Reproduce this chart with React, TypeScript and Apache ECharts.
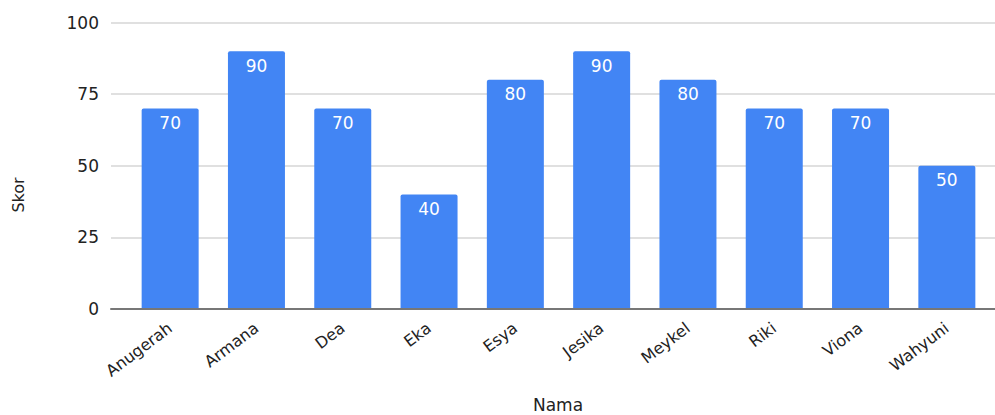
import React, { useEffect, useRef } from "react";
import * as echarts from "echarts";

const names = ["Anugerah", "Armana", "Dea", "Eka", "Esya", "Jesika", "Meykel", "Riki", "Viona", "Wahyuni"];
const scores = [70, 90, 70, 40, 80, 90, 80, 70, 70, 50];
const yTicks = [0, 25, 50, 75, 100];
const xTitle = "Nama";
const yTitle = "Skor";

const FONT = "DejaVu Sans, Verdana, sans-serif";

export default function App() {
  const ref = useRef<HTMLDivElement>(null);
  useEffect(() => {
    if (!ref.current) return;
    const chart = echarts.init(ref.current, undefined, { renderer: "svg" });
    chart.setOption({
      animation: false,
      textStyle: { fontFamily: FONT },
      grid: [
        { left: 111, right: 0, top: 22.5, bottom: 106, containLabel: false, outerBoundsMode: "none" },
        { left: 127, right: 5, top: 22.5, bottom: 106, containLabel: false, outerBoundsMode: "none" },
      ],
      graphic: [
        {
          type: "text",
          x: 558,
          y: 405,
          style: { text: xTitle, font: `17px ${FONT}`, fill: "#222", align: "center", verticalAlign: "middle" },
        },
        {
          type: "text",
          x: 18,
          y: 195,
          rotation: Math.PI / 2,
          style: { text: yTitle, font: `16px ${FONT}`, fill: "#222", align: "center", verticalAlign: "middle" },
        },
      ],
      xAxis: [
        {
          gridIndex: 0,
          type: "category",
          data: names,
          axisLine: { show: true, lineStyle: { color: "#777", width: 2 } },
          axisTick: { show: false },
          axisLabel: { show: false },
          z: 5,
        },
        {
          gridIndex: 1,
          type: "category",
          data: names,
          axisLine: { show: false },
          axisTick: { show: false },
          axisLabel: {
            rotate: 37,
            interval: 0,
            margin: 17,
            fontSize: 16,
            color: "#222",
            fontFamily: FONT,
          },
        },
      ],
      yAxis: [
        {
          gridIndex: 0,
          type: "value",
          min: 0,
          max: 100,
          interval: 25,
          axisLine: { show: false },
          axisTick: { show: false },
          axisLabel: {
            margin: 12,
            fontSize: 17,
            color: "#222",
            fontFamily: FONT,
            formatter: (v: number) => (yTicks.includes(v) ? String(v) : ""),
          },
          splitLine: { lineStyle: { color: "#d6d6d6", width: 1.5 } },
        },
        {
          gridIndex: 1,
          type: "value",
          min: 0,
          max: 100,
          interval: 25,
          show: false,
          splitLine: { show: false },
        },
      ],
      series: [
        {
          type: "bar",
          xAxisIndex: 1,
          yAxisIndex: 1,
          data: scores,
          barWidth: 57,
          itemStyle: { color: "#4285f4", borderRadius: [2, 2, 0, 0] },
          label: {
            show: true,
            position: "insideTop",
            distance: 6,
            color: "#fff",
            fontSize: 17,
            fontFamily: FONT,
          },
          z: 3,
        },
      ],
    });
    return () => chart.dispose();
  }, []);
  return <div ref={ref} style={{ width: 995, height: 415, position: "absolute", left: 0, top: 0 }} />;
}
